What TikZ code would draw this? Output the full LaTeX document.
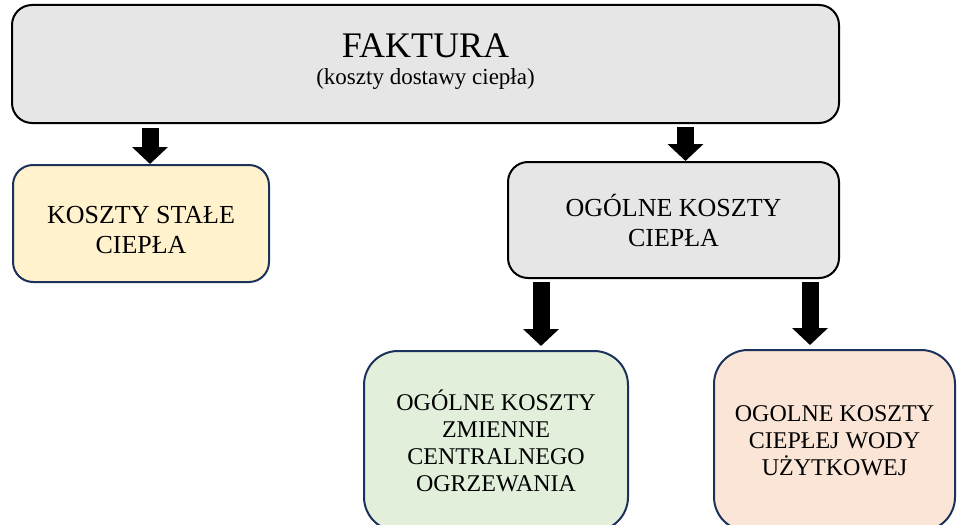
\documentclass[tikz,border=0pt]{standalone}
\usepackage{fontspec}
\setmainfont{Liberation Serif}
\usetikzlibrary{arrows.meta}
\definecolor{boxgray}{RGB}{230,230,230}
\definecolor{boxcream}{RGB}{255,242,204}
\definecolor{boxgreen}{RGB}{226,239,218}
\definecolor{boxpink}{RGB}{251,229,214}
\definecolor{boxnavy}{RGB}{28,50,92}
\tikzset{box/.style = {draw, rounded corners=20pt, line width=2pt, inner sep=0pt, align=center}}
\tikzset{graybox/.style = {box, draw=black, fill=boxgray}}
\tikzset{navybox/.style = {box, draw=boxnavy, line width=2pt}}
\tikzset{blockarrow/.style = {line width=17pt, -{Triangle[length=17pt, width=35pt]}}}

\begin{document}
\begin{tikzpicture}[x=1pt, y=-1pt]
\useasboundingbox (0,0) rectangle (957,524);
% boxes
\node [graybox, minimum width=827pt, minimum height=118pt, font=\fontsize{23}{27}\selectfont] (fak) at (425.5,64)
  {{\fontsize{36}{36}\selectfont FAKTURA}\\(koszty dostawy ciepła)\rule[-10pt]{0pt}{0pt}};
\node [navybox, fill=boxcream, minimum width=256pt, minimum height=117pt, font=\fontsize{26}{30}\selectfont] (ks) at (141,223.5)
  {\rule{0pt}{31pt}KOSZTY STAŁE\\CIEPŁA};
\node [graybox, minimum width=331pt, minimum height=116pt, font=\fontsize{26}{30}\selectfont] (ogk) at (673.5,220)
  {OGÓLNE KOSZTY\\CIEPŁA};
\node [navybox, rounded corners=34pt, fill=boxgreen, minimum width=264pt, minimum height=180pt, font=\fontsize{24}{27}\selectfont] (co) at (496,441)
  {OGÓLNE KOSZTY\\ZMIENNE\\CENTRALNEGO\\OGRZEWANIA};
\node [navybox, rounded corners=34pt, fill=boxpink, minimum width=241pt, minimum height=181pt, font=\fontsize{24}{27}\selectfont] (cwu) at (834.5,440.5)
  {OGOLNE KOSZTY\\CIEPŁEJ WODY\\UŻYTKOWEJ};
% arrows
\coordinate (x1) at (150,0);
\coordinate (x2) at (685.5,0);
\coordinate (x3) at (541,0);
\coordinate (x4) at (810,0);
\draw [blockarrow, shorten <=4pt] (fak.south -| x1) -- (ks.north -| x1);
\draw [blockarrow, shorten <=3pt] (fak.south -| x2) -- (ogk.north -| x2);
\draw [blockarrow, shorten <=3pt, shorten >=4pt] (ogk.south -| x3) -- (co.north -| x3);
\draw [blockarrow, shorten <=3pt, shorten >=4pt] (ogk.south -| x4) -- (cwu.north -| x4);
\end{tikzpicture}
\end{document}
